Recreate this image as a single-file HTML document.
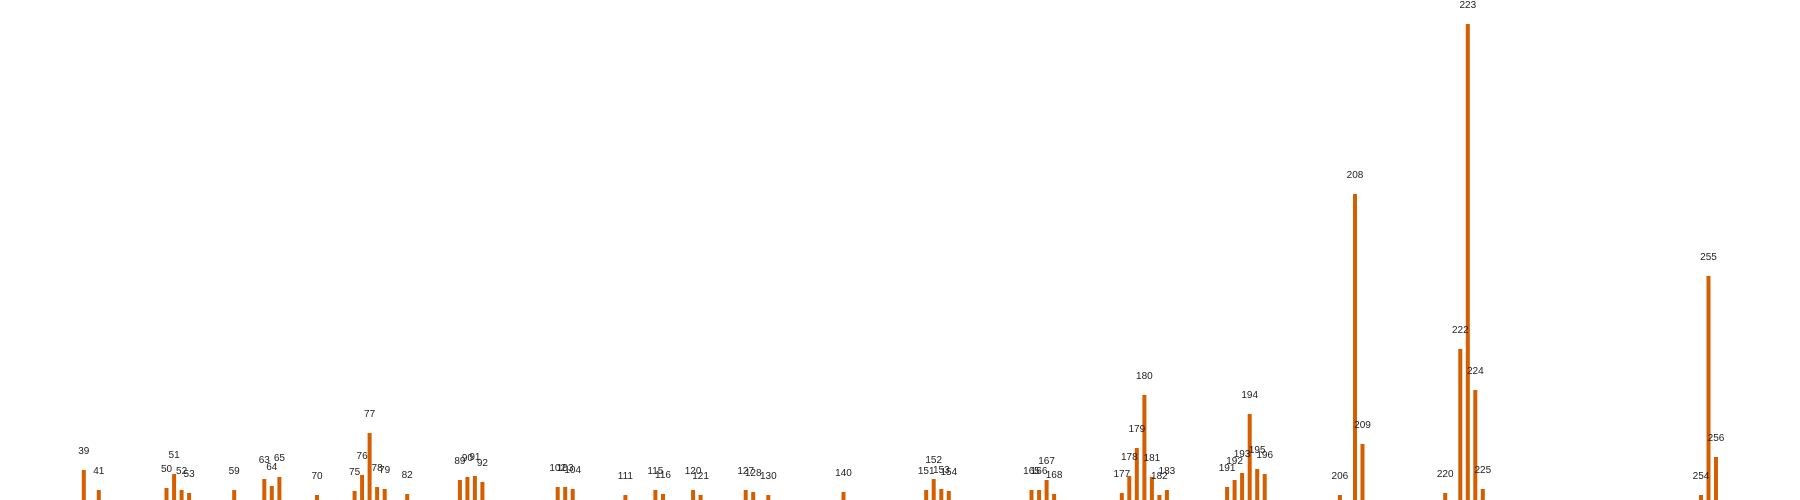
<!DOCTYPE html>
<html><head><meta charset="utf-8"><style>
html,body{margin:0;padding:0;background:#fff;}
svg{display:block;}
text{font-family:"Liberation Sans",sans-serif;font-size:10px;fill:#222;}
</style></head><body>
<svg id="chart" width="1800" height="500" viewBox="0 0 1800 500" xmlns="http://www.w3.org/2000/svg">
<g id="bars"></g>
<g id="labels"></g>
</svg>
<script>
const categories = [39,41,50,51,52,53,59,63,64,65,70,75,76,77,78,79,82,89,90,91,92,102,103,104,111,115,116,120,121,127,128,130,140,151,152,153,154,165,166,167,168,177,178,179,180,181,182,183,191,192,193,194,195,196,206,208,209,220,222,223,224,225,254,255,256];
const values = [30,10,12,26,10,7,10,21,14,23,5,9,25,67,13,11,6,20,23,24,18,13,13,11,5,10,6,10,5,10,8,5,8,10,21,11,9,10,10,20,6,7,24,52,105,23,5,10,13,20,27,86,31,26,5,306,56,7,151,476,110,11,5,224,43];
const xMin = 39, xMax = 256, xLeft = 83.8, xRight = 1716;
const yMax = 476, baseline = 500, plotH = 476;
function xScale(v){ return xLeft + (v - xMin) * (xRight - xLeft) / (xMax - xMin); }
function yScale(v){ return baseline - v * plotH / yMax; }
const NS = "http://www.w3.org/2000/svg";
const gb = document.getElementById('bars');
const gl = document.getElementById('labels');
categories.forEach((c, i) => {
  const x = xScale(c), y = yScale(values[i]);
  const r = document.createElementNS(NS, 'rect');
  r.setAttribute('x', (x - 2).toFixed(1));
  r.setAttribute('y', y.toFixed(1));
  r.setAttribute('width', 4);
  r.setAttribute('height', (baseline - y).toFixed(1));
  r.setAttribute('fill', '#d55e00');
  
  
  gb.appendChild(r);
  const t = document.createElementNS(NS, 'text');
  t.setAttribute('x', x.toFixed(1));
  t.setAttribute('y', (y - 16).toFixed(1));
  t.setAttribute('text-anchor', 'middle');
  t.textContent = String(c);
  
  
  gl.appendChild(t);
});
</script>
</body></html>
